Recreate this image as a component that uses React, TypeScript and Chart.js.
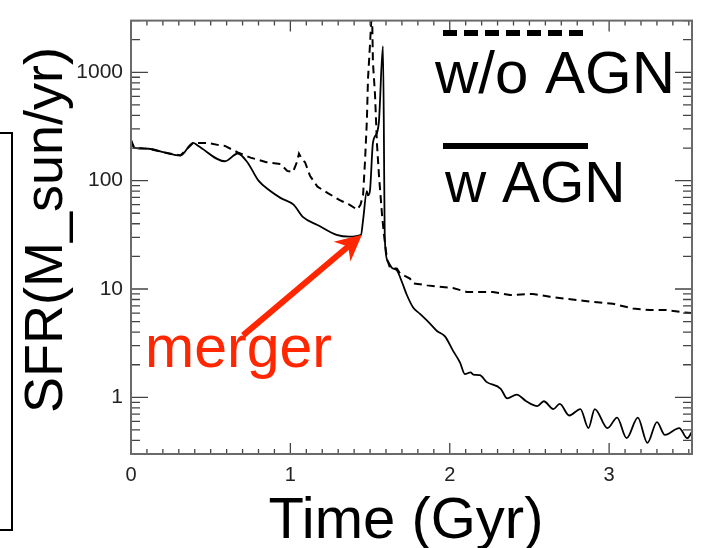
import React, { useEffect, useRef } from 'react';
import { Chart, registerables } from 'chart.js';

Chart.register(...registerables);

// ---- data (time in Gyr, SFR in M_sun/yr) ----
const timeWithAGN = [
  0.0, 0.02, 0.11, 0.21, 0.31, 0.39, 0.42, 0.59, 0.67, 0.73, 0.8, 0.87, 0.94, 1.02, 1.08, 1.17, 1.29, 1.37,
  1.443, 1.456, 1.48, 1.487, 1.499, 1.518, 1.543, 1.556, 1.581, 1.593, 1.612, 1.637, 1.669, 1.7, 1.731, 1.769,
  1.813, 1.876, 1.92, 1.97, 2.02, 2.064, 2.095, 2.13, 2.15, 2.19, 2.23, 2.32, 2.36, 2.42, 2.48, 2.55, 2.59,
  2.65, 2.69, 2.75, 2.82, 2.87, 2.91, 2.99, 3.05, 3.11, 3.18, 3.24, 3.3, 3.35, 3.44, 3.49, 3.52,
];
const sfrWithAGN = [
  237, 201, 197, 182, 171, 223, 210, 151, 178, 148, 100, 81, 69, 60, 46, 39, 31.6, 30.4,
  31.6, 43, 80, 73, 80, 223, 275, 358, 1740, 28, 18, 15.7, 14.8, 11.6, 8.8, 6.8,
  5.9, 4.8, 4.1, 3.65, 2.7, 2.1, 1.64, 1.7, 1.62, 1.6, 1.39, 1.2, 0.98, 1.06, 0.92, 0.83, 0.92,
  0.78, 0.87, 0.68, 0.78, 0.52, 0.78, 0.52, 0.65, 0.42, 0.65, 0.38, 0.59, 0.45, 0.52, 0.42, 0.48,
];
const timeNoAGN = [
  0.0, 0.02, 0.11, 0.21, 0.31, 0.39, 0.48, 0.57, 0.59, 0.67, 0.75, 0.85, 0.94, 0.98, 1.016, 1.041, 1.054,
  1.073, 1.092, 1.123, 1.17, 1.24, 1.31, 1.37, 1.42, 1.44, 1.456, 1.468, 1.48, 1.487, 1.499, 1.512, 1.518,
  1.531, 1.543, 1.556, 1.575, 1.587, 1.606, 1.625, 1.669, 1.688, 1.75, 1.769, 1.857, 2.02, 2.108, 2.271,
  2.378, 2.522, 2.629, 2.735, 2.836, 2.942, 3.024, 3.149, 3.256, 3.363, 3.463, 3.52,
];
const sfrNoAGN = [
  237, 201, 197, 182, 171, 223, 223, 210, 209, 182, 163, 148, 142, 123, 120, 148, 178,
  157, 148, 111, 88, 76, 66, 60, 54, 60, 73, 148, 358, 870, 1741, 4000, 1236,
  624, 223, 111, 48.7, 32, 18.9, 15.7, 15.4, 13.9, 12.5, 11.3, 10.8, 10.2, 9.4, 9.4,
  8.8, 9.0, 8.5, 8.1, 7.8, 7.5, 7.3, 6.6, 6.4, 6.4, 6.1, 6.0,
];

const xTickValues = [0, 1, 2, 3];
const yTickValues = [1, 10, 100, 1000];
const xRange = [0, 3.52];
const yRange = [0.3, 3000];
const legendLabels = ['w/o AGN', 'w AGN'];
const xTitle = 'Time (Gyr)';
const yTitle = 'SFR(M_sun/yr)';
const mergerLabel = 'merger';
// arrow from label (time, sfr) to merger onset point (time, sfr)
const arrowFrom = [0.703, 3.73];
const arrowTo = [1.449, 31.6];
const labelAt = [0.088, 1.89];

const FONT = '"Liberation Sans", Arial, Helvetica, sans-serif';
const RED = 'rgb(255,38,0)';

const decorPlugin = {
  id: 'decor',
  afterDatasetsDraw(chart: any) {
    const { ctx, chartArea: a, scales } = chart;
    const xs = scales.x;
    const ys = scales.y;
    ctx.save();
    ctx.setLineDash([]);
    // ticks
    ctx.strokeStyle = '#444';
    ctx.lineWidth = 1.3;
    ctx.beginPath();
    for (let i = 0; i <= 35; i++) {
      const v = i / 10;
      const px = xs.getPixelForValue(v);
      const len = i % 10 === 0 ? 11 : 5;
      ctx.moveTo(px, a.bottom);
      ctx.lineTo(px, a.bottom - len);
      ctx.moveTo(px, a.top);
      ctx.lineTo(px, a.top + len);
    }
    for (let e = -1; e <= 3; e++) {
      for (let k = 1; k <= 9; k++) {
        const v = k * Math.pow(10, e);
        if (v < yRange[0] || v > yRange[1]) continue;
        const py = ys.getPixelForValue(v);
        const len = k === 1 ? 17 : 9;
        ctx.moveTo(a.left, py);
        ctx.lineTo(a.left + len, py);
        ctx.moveTo(a.right, py);
        ctx.lineTo(a.right - len, py);
      }
    }
    ctx.stroke();
    // frame
    ctx.strokeStyle = '#6a6a6a';
    ctx.lineWidth = 2;
    ctx.strokeRect(a.left, a.top, a.right - a.left, a.bottom - a.top);
    ctx.restore();
  },
  afterDraw(chart: any) {
    const { ctx, scales } = chart;
    const xs = scales.x;
    const ys = scales.y;
    ctx.save();
    ctx.fillStyle = '#000';
    ctx.textBaseline = 'alphabetic';

    // y title
    ctx.save();
    ctx.translate(62, 230);
    ctx.rotate(-Math.PI / 2);
    ctx.textAlign = 'center';
    ctx.font = `54px ${FONT}`;
    ctx.fillText(yTitle, 0, 0);
    ctx.restore();

    // x title
    ctx.textAlign = 'center';
    ctx.font = `58px ${FONT}`;
    ctx.fillText(xTitle, 406, 538);

    // left bracket
    ctx.strokeStyle = '#000';
    ctx.lineWidth = 2;
    ctx.beginPath();
    ctx.moveTo(0, 133);
    ctx.lineTo(12, 133);
    ctx.lineTo(12, 530);
    ctx.lineTo(0, 530);
    ctx.stroke();

    // legend
    ctx.lineWidth = 6;
    ctx.setLineDash([14, 7]);
    ctx.beginPath();
    ctx.moveTo(443, 33);
    ctx.lineTo(588, 33);
    ctx.stroke();
    ctx.setLineDash([]);
    ctx.beginPath();
    ctx.moveTo(443, 146);
    ctx.lineTo(588, 146);
    ctx.stroke();
    ctx.textAlign = 'left';
    ctx.font = `60px ${FONT}`;
    ctx.fillText(legendLabels[0], 435, 93);
    ctx.font = `57px ${FONT}`;
    ctx.fillText(legendLabels[1], 445, 202);

    // merger annotation
    ctx.fillStyle = RED;
    ctx.font = `59px ${FONT}`;
    ctx.fillText(mergerLabel, xs.getPixelForValue(labelAt[0]), ys.getPixelForValue(labelAt[1]));

    const x0 = xs.getPixelForValue(arrowFrom[0]);
    const y0 = ys.getPixelForValue(arrowFrom[1]);
    const x1 = xs.getPixelForValue(arrowTo[0]);
    const y1 = ys.getPixelForValue(arrowTo[1]);
    const dx = x1 - x0;
    const dy = y1 - y0;
    const L = Math.hypot(dx, dy);
    const ux = dx / L;
    const uy = dy / L;
    const nx = -uy;
    const ny = ux;
    const headLen = 26;
    const headHalf = 13;
    ctx.strokeStyle = RED;
    ctx.lineWidth = 6;
    ctx.beginPath();
    ctx.moveTo(x0, y0);
    ctx.lineTo(x1 - ux * 18, y1 - uy * 18);
    ctx.stroke();
    ctx.beginPath();
    ctx.moveTo(x1, y1);
    ctx.lineTo(x1 - ux * headLen + nx * headHalf, y1 - uy * headLen + ny * headHalf);
    ctx.lineTo(x1 - ux * 18, y1 - uy * 18);
    ctx.lineTo(x1 - ux * headLen - nx * headHalf, y1 - uy * headLen - ny * headHalf);
    ctx.closePath();
    ctx.fill();
    ctx.restore();
  },
};

export default function App() {
  const ref = useRef<HTMLCanvasElement | null>(null);

  useEffect(() => {
    document.body.style.margin = '0';
    const canvas = ref.current;
    if (!canvas) return;
    const withAGN = timeWithAGN.map((t, i) => ({ x: t, y: sfrWithAGN[i] }));
    const noAGN = timeNoAGN.map((t, i) => ({ x: t, y: sfrNoAGN[i] }));
    const chart = new Chart(canvas, {
      type: 'line',
      data: {
        datasets: [
          {
            label: legendLabels[0],
            data: noAGN,
            borderColor: '#000',
            borderWidth: 2,
            borderDash: [8, 5],
            pointRadius: 0,
            tension: 0,
            fill: false,
          },
          {
            label: legendLabels[1],
            data: withAGN,
            borderColor: '#000',
            borderWidth: 1.8,
            pointRadius: 0,
            cubicInterpolationMode: 'monotone',
            fill: false,
          },
        ],
      },
      options: {
        responsive: false,
        animation: false,
        devicePixelRatio: 1,
        layout: { padding: { left: 0, top: 7, right: 9, bottom: 0 } },
        plugins: { legend: { display: false }, tooltip: { enabled: false } },
        scales: {
          x: {
            type: 'linear',
            min: xRange[0],
            max: xRange[1],
            grid: { display: false, drawTicks: false },
            border: { display: false },
            afterFit: (s: any) => {
              s.height = 94;
            },
            afterBuildTicks: (s: any) => {
              s.ticks = xTickValues.map((v) => ({ value: v }));
            },
            ticks: {
              padding: 9,
              color: '#222',
              font: { family: FONT, size: 20 },
              maxRotation: 0,
              autoSkip: false,
              callback: (v: any) => String(v),
            },
          },
          y: {
            type: 'logarithmic',
            min: yRange[0],
            max: yRange[1],
            grid: { display: false, drawTicks: false },
            border: { display: false },
            afterFit: (s: any) => {
              s.width = 131;
            },
            afterBuildTicks: (s: any) => {
              s.ticks = yTickValues.map((v) => ({ value: v }));
            },
            ticks: {
              padding: 8,
              color: '#222',
              font: { family: FONT, size: 21 },
              autoSkip: false,
              callback: (v: any) => String(v),
            },
          },
        },
      },
      plugins: [decorPlugin],
    } as any);
    return () => chart.destroy();
  }, []);

  return (
    <div style={{ position: 'absolute', left: 0, top: 0, width: 701, height: 548, background: '#fff' }}>
      <canvas ref={ref} width={701} height={548} />
    </div>
  );
}
